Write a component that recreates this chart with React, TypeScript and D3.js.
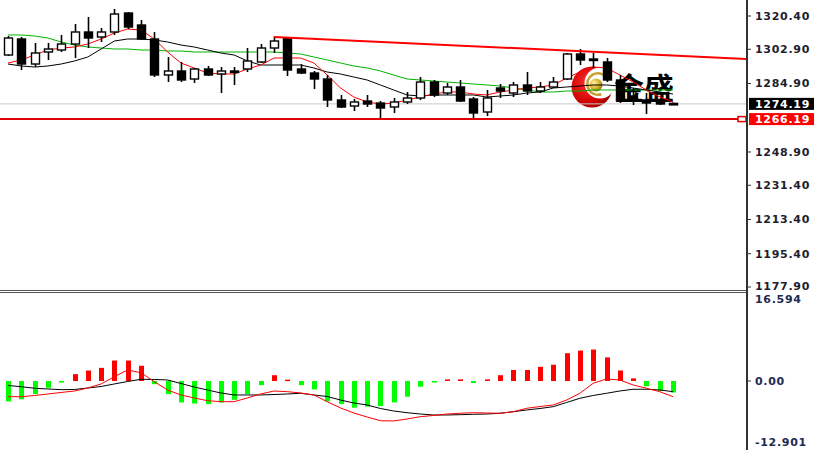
import React from 'react';
import * as d3 from 'd3';

const W = 814;
const H = 450;

// OHLC candles (XAU/USD), oldest -> newest
const opens = [1299.89,1308.30,1295.16,1301.47,1302.52,1305.67,1311.99,1309.36,1311.99,1321.97,1315.66,1308.30,1289.38,1291.48,1287.27,1292.53,1289.90,1291.48,1292.53,1296.21,1303.57,1308.83,1292.53,1290.43,1287.27,1276.23,1273.07,1275.70,1274.65,1272.55,1275.18,1277.28,1285.69,1279.91,1283.06,1276.76,1269.92,1282.54,1279.91,1284.12,1280.96,1283.06,1287.27,1300.42,1297.79,1296.21,1286.75,1278.33,1276.23,1275.18,1274.45];
const highs = [1309.88,1309.36,1306.20,1306.20,1310.41,1316.19,1319.87,1314.09,1324.08,1322.50,1318.30,1311.99,1298.84,1296.21,1293.06,1294.11,1293.58,1293.58,1303.57,1305.67,1309.88,1309.36,1295.16,1291.48,1289.38,1278.86,1276.76,1278.86,1275.70,1277.28,1280.44,1288.32,1286.75,1285.17,1286.75,1277.81,1281.49,1284.64,1285.69,1290.95,1285.69,1288.32,1300.94,1303.05,1300.94,1298.31,1289.38,1282.54,1279.91,1276.76,1274.90];
const lows = [1299.36,1292.00,1293.58,1297.26,1301.47,1298.31,1303.57,1306.73,1310.41,1313.56,1307.78,1288.32,1285.69,1285.69,1285.17,1288.85,1279.91,1284.12,1290.95,1295.68,1300.94,1288.85,1289.90,1282.01,1272.55,1272.02,1270.45,1272.55,1266.77,1269.40,1274.13,1276.23,1277.81,1278.86,1275.18,1266.24,1267.82,1277.28,1277.81,1278.86,1279.91,1282.54,1286.75,1294.63,1293.06,1285.69,1274.65,1273.60,1268.87,1273.60,1273.90];
const closes = [1308.83,1295.16,1300.94,1303.05,1305.67,1311.99,1308.83,1311.99,1321.45,1314.61,1308.30,1289.38,1291.48,1286.75,1292.53,1289.38,1291.48,1290.95,1296.74,1303.57,1307.25,1292.00,1290.43,1287.27,1276.23,1272.55,1275.18,1274.13,1272.02,1275.18,1277.28,1285.69,1278.86,1283.06,1275.70,1269.40,1277.28,1280.96,1284.12,1280.96,1283.06,1285.69,1300.42,1297.26,1297.26,1286.75,1276.23,1276.23,1274.65,1274.13,1274.19];

// moving averages
const maRed = [1295.68,1297.26,1299.89,1302.52,1303.57,1304.10,1305.67,1308.30,1311.46,1313.56,1313.04,1308.30,1301.47,1295.68,1293.06,1290.43,1289.90,1289.90,1292.53,1294.63,1298.31,1298.31,1298.31,1295.68,1289.38,1282.54,1277.81,1275.18,1274.13,1274.65,1276.23,1277.81,1279.38,1280.44,1280.44,1279.38,1278.86,1280.44,1281.49,1282.54,1283.06,1284.12,1287.80,1290.95,1293.58,1293.06,1289.38,1285.69,1281.49,1277.81,1275.18];
const maBlack = [1295.16,1294.11,1293.58,1294.11,1295.16,1296.74,1298.84,1303.05,1307.25,1308.30,1308.30,1307.78,1306.73,1305.15,1304.10,1302.52,1300.94,1299.89,1296.74,1294.63,1294.63,1294.63,1294.63,1293.06,1290.95,1289.90,1288.32,1286.75,1284.12,1281.49,1278.86,1278.33,1278.86,1278.86,1278.86,1278.86,1277.81,1278.33,1278.86,1279.91,1280.44,1282.54,1283.06,1283.59,1284.12,1284.12,1283.59,1282.54,1281.49,1280.44,1279.38];
const maGreen = [1310.41,1310.41,1309.88,1308.83,1306.73,1305.15,1304.10,1303.57,1303.05,1303.05,1302.52,1302.52,1301.99,1301.99,1301.47,1301.47,1301.47,1301.47,1301.47,1301.47,1301.47,1300.94,1300.42,1298.84,1297.26,1295.68,1294.11,1293.06,1291.48,1289.38,1287.27,1286.75,1286.22,1285.69,1285.17,1284.64,1284.12,1283.59,1282.54,1281.49,1280.44,1280.44,1280.96,1280.96,1281.49,1281.49,1281.49,1281.49,1281.49,1281.49,1281.49];

// MACD pane
const macdHist = [-3.9,-3.5,-2.5,-1.3,-0.3,1.3,2.0,2.5,3.9,3.9,2.9,-0.6,-2.5,-4.1,-4.3,-4.4,-4.1,-3.6,-2.5,-0.8,1.1,0.25,-0.8,-1.6,-3.9,-4.4,-5.1,-4.9,-4.8,-4.1,-3.0,-1.1,-0.3,0.3,0.3,-0.4,0.3,1.1,2.1,2.1,2.7,3.1,5.3,5.8,6.0,4.5,2.0,0.5,-1.0,-1.9,-2.2];
const macdBlack = [-0.86,-1.09,-1.39,-1.53,-1.66,-1.62,-1.34,-1.05,-0.57,-0.10,0.32,0.29,0.19,-0.48,-1.15,-1.72,-2.29,-2.67,-2.67,-2.67,-2.58,-2.48,-2.35,-2.67,-2.96,-3.63,-4.20,-4.58,-5.25,-5.73,-6.05,-6.30,-6.49,-6.49,-6.43,-6.36,-6.30,-6.16,-5.86,-5.53,-5.25,-4.90,-4.10,-3.30,-2.77,-2.35,-1.91,-1.58,-1.58,-1.72,-2.04];
const macdRed = [-3.00,-3.00,-2.77,-2.48,-2.19,-1.91,-1.34,-0.57,0.82,2.10,1.58,-0.13,-1.72,-2.67,-3.24,-3.76,-3.95,-3.95,-3.24,-2.48,-1.91,-2.04,-2.29,-2.67,-3.95,-5.15,-6.11,-6.87,-7.58,-7.63,-7.25,-6.81,-6.58,-6.30,-6.16,-6.05,-6.11,-6.16,-5.86,-5.21,-4.87,-4.58,-3.63,-2.35,-0.44,0.38,0.19,-0.76,-1.39,-2.04,-3.00];

// axis ticks
const priceTicks = [1320.40, 1302.90, 1284.90, 1248.90, 1231.40, 1213.40, 1195.40, 1177.90];
const macdTicks = [16.594, 0, -12.901];
const macdTickLabels = ['16.594', '0.00', '-12.901'];

// levels & trendline
const supportLevel = 1266.19;
const bidLevel = 1274.19;
const trendIdx = [20, 55.5];
const trendPrice = [1309.4, 1297.8];

const AXIS_X = 747;
const FONT = '"DejaVu Sans", Verdana, sans-serif';
const LS = 0.7;

export default function App() {
  const n = closes.length;
  const x = d3.scaleLinear().domain([0, n - 1]).range([8, 673]);
  const yP = d3.scaleLinear().domain([1177.9, 1320.4]).range([287, 16]);
  const yM = d3.scaleLinear().domain([-12.901, 16.594]).range([448.6, 294]);

  const priceLine = (arr: number[]) =>
    d3.line<number>().x((_, i) => x(i)).y((d) => yP(d))(arr) || '';
  const macdLine = (arr: number[]) =>
    d3.line<number>().x((_, i) => x(i)).y((d) => yM(d))(arr) || '';
  const trendPath = d3.line<number>().x((d) => x(d)).y((_, i) => yP(trendPrice[i]))(trendIdx) || '';

  const bodyW = 8;
  const macdLabelShift = [5.5, 0, -6];

  return (
    <svg width={W} height={H} style={{ position: 'absolute', left: 0, top: 0, background: '#fff' }}
      fontFamily={FONT}>
      <rect x={0} y={0} width={W} height={H} fill="#fff" />
      <defs>
        <radialGradient id="redg" cx="0.4" cy="0.4" r="0.7">
          <stop offset="0" stopColor="#ff3030" />
          <stop offset="0.7" stopColor="#d00000" />
          <stop offset="1" stopColor="#8a0000" />
        </radialGradient>
        <radialGradient id="goldg" cx="0.35" cy="0.35" r="0.7">
          <stop offset="0" stopColor="#fff2a0" />
          <stop offset="0.6" stopColor="#d8b030" />
          <stop offset="1" stopColor="#9a7510" />
        </radialGradient>
        <clipPath id="mainclip"><rect x={0} y={0} width={AXIS_X} height={289} /></clipPath>
        <clipPath id="macdclip"><rect x={0} y={293} width={AXIS_X} height={H - 293} /></clipPath>
      </defs>

      {/* logo watermark */}
      <g>
        <circle cx={592} cy={87} r={20.5} fill="url(#redg)" />
        <circle cx={600} cy={83} r={15.5} fill="#fff" />
        <path d={d3.arc()({ innerRadius: 9.5, outerRadius: 12, startAngle: Math.PI * 0.9, endAngle: Math.PI * 2.3 }) || ''}
          transform="translate(598,84)" fill="#c9a030" />
        <circle cx={596} cy={85} r={6.5} fill="url(#goldg)" />
        <text x={614} y={99} fontSize={30} fontWeight={700} fontFamily='"Noto Sans CJK SC", sans-serif' fill="#000">金盛</text>
      </g>

      <g clipPath="url(#mainclip)">
        {/* bid line */}
        <line x1={0} x2={AXIS_X} y1={yP(bidLevel)} y2={yP(bidLevel)} stroke="#c8c8c8" strokeWidth={1} />
        {/* moving averages */}
        <path d={priceLine(maGreen)} fill="none" stroke="#00b400" strokeWidth={1} />
        <path d={priceLine(maBlack)} fill="none" stroke="#000" strokeWidth={1} />
        <path d={priceLine(maRed)} fill="none" stroke="#ff0000" strokeWidth={1} />
        {/* candles */}
        {closes.map((c, i) => {
          const o = opens[i];
          const up = c >= o;
          const top = yP(Math.max(o, c));
          const bot = yP(Math.min(o, c));
          const cx = Math.round(x(i)) + 0.5;
          return (
            <g key={i}>
              <line x1={cx} x2={cx} y1={yP(highs[i])} y2={yP(lows[i])} stroke="#000" strokeWidth={1.6} />
              <rect x={cx - bodyW / 2} y={top} width={bodyW} height={Math.max(1.5, bot - top)}
                fill={up ? '#fff' : '#000'} stroke="#000" strokeWidth={1.4} />
            </g>
          );
        })}
        {/* trendline */}
        <path d={trendPath} fill="none" stroke="#ff0000" strokeWidth={2} />
        {/* support level */}
        <line x1={0} x2={AXIS_X} y1={yP(supportLevel)} y2={yP(supportLevel)} stroke="#e00000" strokeWidth={2} />
      </g>
      <rect x={738} y={yP(supportLevel) - 2.5} width={8} height={5} fill="#fff" stroke="#e00000" strokeWidth={1.5} />

      {/* pane separator */}
      <line x1={0} x2={AXIS_X} y1={290.5} y2={290.5} stroke="#555" strokeWidth={1} />
      <line x1={0} x2={AXIS_X} y1={292.5} y2={292.5} stroke="#555" strokeWidth={1} />

      {/* MACD pane */}
      <g clipPath="url(#macdclip)">
        {macdHist.map((v, i) => {
          const y0 = yM(0);
          const y1 = yM(v);
          return (
            <rect key={i} x={Math.round(x(i)) - 2} y={Math.min(y0, y1)} width={5}
              height={Math.max(1.5, Math.abs(y1 - y0))} fill={v >= 0 ? '#ff0000' : '#00ff00'} />
          );
        })}
        <path d={macdLine(macdBlack)} fill="none" stroke="#000" strokeWidth={1} />
        <path d={macdLine(macdRed)} fill="none" stroke="#ff0000" strokeWidth={1} />
      </g>

      {/* right axis */}
      <line x1={AXIS_X} x2={AXIS_X} y1={0} y2={H} stroke="#333" strokeWidth={2} />
      {priceTicks.map((t) => (
        <g key={t}>
          <line x1={AXIS_X} x2={AXIS_X + 4} y1={yP(t)} y2={yP(t)} stroke="#333" strokeWidth={1} />
          <text x={755} y={yP(t) - (t === 1177.9 ? 1 : 0)} dy="0.35em" fontSize={11} fontWeight={700}
            letterSpacing={LS} fill="#1e1e2e">{t.toFixed(2)}</text>
        </g>
      ))}
      {macdTicks.map((t, i) => (
        <g key={t}>
          {i === 1 && <line x1={AXIS_X} x2={AXIS_X + 4} y1={yM(t)} y2={yM(t)} stroke="#333" strokeWidth={1} />}
          <text x={755} y={yM(t) + macdLabelShift[i]} dy="0.35em" fontSize={11} fontWeight={700}
            letterSpacing={LS} fill="#1e2a50">{macdTickLabels[i]}</text>
        </g>
      ))}
      {/* current price labels */}
      <rect x={749} y={yP(bidLevel) - 6} width={W - 749} height={12} fill="#000" />
      <text x={755} y={yP(bidLevel)} dy="0.35em" fontSize={11} fontWeight={700} letterSpacing={LS} fill="#fff">{bidLevel.toFixed(2)}</text>
      <rect x={749} y={yP(supportLevel) - 6} width={W - 749} height={12} fill="#ff0000" />
      <text x={755} y={yP(supportLevel)} dy="0.35em" fontSize={11} fontWeight={700} letterSpacing={LS} fill="#fff">{supportLevel.toFixed(2)}</text>
    </svg>
  );
}
